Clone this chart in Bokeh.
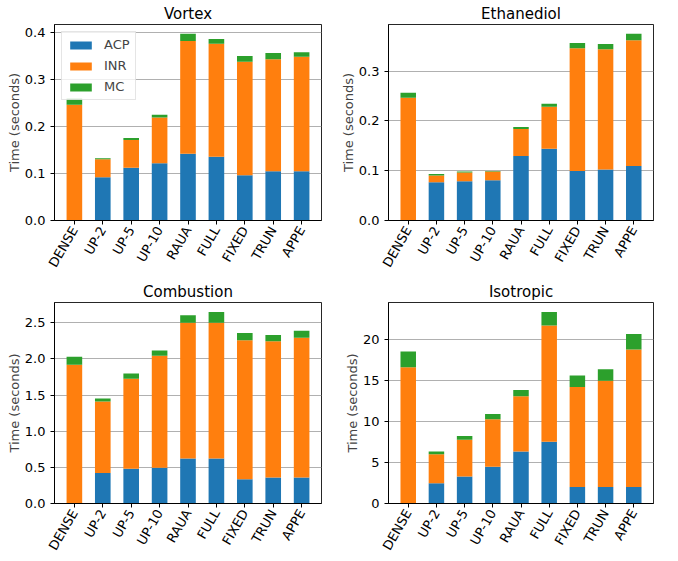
from bokeh.plotting import figure
from bokeh.layouts import column, row
from bokeh.models import ColumnDataSource, Range1d, FixedTicker, PrintfTickFormatter
from bokeh.embed import file_html
from bokeh.resources import INLINE

categories = ["DENSE", "UP-2", "UP-5", "UP-10", "RAUA", "FULL", "FIXED", "TRUN", "APPE"]
series_names = ["ACP", "INR", "MC"]
colors = ["#1f77b4", "#ff7f0e", "#2ca02c"]

# Vortex (seconds)
vortex_acp = [0.0, 0.092, 0.112, 0.122, 0.142, 0.1355, 0.096, 0.105, 0.105]
vortex_inr = [0.246, 0.0385, 0.059, 0.097, 0.240, 0.2405, 0.2416, 0.238, 0.243]
vortex_mc = [0.0135, 0.0021, 0.0046, 0.006, 0.015, 0.010, 0.0124, 0.013, 0.010]

# Ethanediol
eth_acp = [0.0, 0.077, 0.079, 0.081, 0.1297, 0.144, 0.0993, 0.1027, 0.1095]
eth_inr = [0.2466, 0.0135, 0.0176, 0.0176, 0.0541, 0.0844, 0.2467, 0.2413, 0.2525]
eth_mc = [0.0102, 0.0027, 0.002, 0.0007, 0.004, 0.0061, 0.0108, 0.0107, 0.013]

# Combustion
comb_acp = [0.0, 0.422, 0.48, 0.494, 0.624, 0.624, 0.336, 0.36, 0.36]
comb_inr = [1.919, 0.989, 1.247, 1.55, 1.876, 1.876, 1.924, 1.886, 1.934]
comb_mc = [0.111, 0.043, 0.072, 0.072, 0.105, 0.149, 0.101, 0.086, 0.096]

# Isotropic
iso_acp = [0.0, 2.46, 3.3, 4.49, 6.36, 7.54, 2.03, 2.03, 2.03]
iso_inr = [16.65, 3.56, 4.5, 5.81, 6.73, 14.2, 12.21, 12.97, 16.78]
iso_mc = [1.91, 0.34, 0.46, 0.63, 0.77, 1.65, 1.4, 1.4, 1.91]

vortex_ticks = [0.0, 0.1, 0.2, 0.3, 0.4]
eth_ticks = [0.0, 0.1, 0.2, 0.3]
comb_ticks = [0.0, 0.5, 1.0, 1.5, 2.0, 2.5]
iso_ticks = [0, 5, 10, 15, 20]

FONT = "DejaVu Sans"


def make_panel(title, acp, inr, mc, yticks, fmt, width, height, bl, br, bt, bb, legend=False):
    xs = list(range(len(categories)))
    src = ColumnDataSource(dict(x=xs, ACP=acp, INR=inr, MC=mc))
    totals = [a + b + c for a, b, c in zip(acp, inr, mc)]
    ymax = max(totals) * 1.05
    p = figure(width=width, height=height, output_backend="svg", toolbar_location=None,
               x_range=Range1d(-0.7, len(categories) - 0.3), y_range=Range1d(0, ymax),
               min_border_left=bl, min_border_right=br, min_border_top=bt, min_border_bottom=bb,
               title=title)
    kw = {}
    if legend:
        kw["legend_label"] = series_names
    p.vbar_stack(series_names, x="x", width=0.55, color=colors, line_color=None, source=src, **kw)

    p.title.text_font = FONT
    p.title.text_font_size = "15px"
    p.title.text_font_style = "normal"
    p.title.align = "center"
    p.title.text_color = "black"
    p.title.standoff = 4

    p.xgrid.visible = False
    p.ygrid.grid_line_color = "#b0b0b0"
    p.ygrid.grid_line_width = 1
    p.ygrid.ticker = FixedTicker(ticks=yticks)

    p.outline_line_color = "black"
    p.outline_line_alpha = 0.85
    p.outline_line_width = 1

    p.xaxis.ticker = FixedTicker(ticks=xs)
    p.xaxis.major_label_overrides = {i: c for i, c in enumerate(categories)}
    p.xaxis.major_label_orientation = 1.0472
    p.xaxis.major_label_text_line_height = 1.0
    p.yaxis.ticker = FixedTicker(ticks=yticks)
    p.yaxis.formatter = PrintfTickFormatter(format=fmt)
    p.yaxis.axis_label = "Time (seconds)"
    p.yaxis.axis_label_text_font_style = "normal"
    p.yaxis.axis_label_text_font = FONT
    p.yaxis.axis_label_text_font_size = "13px"
    p.yaxis.axis_label_standoff = 0
    for ax in (p.xaxis, p.yaxis):
        ax.major_label_text_font = FONT
        ax.major_label_text_font_size = "13px"
        ax.major_label_text_color = "black"
        ax.axis_line_color = "black"
        ax.major_tick_line_color = "black"
        ax.minor_tick_line_color = None
        ax.major_tick_out = 4
        ax.major_tick_in = 0
    p.yaxis.major_label_standoff = 5
    p.xaxis.major_label_standoff = 3

    if legend:
        lg = p.legend[0]
        lg.location = "top_left"
        lg.margin = 7
        lg.padding = 5
        lg.spacing = 6
        lg.label_height = 14
        lg.glyph_width = 27
        lg.glyph_height = 10
        lg.label_standoff = 10
        lg.label_text_font = FONT
        lg.label_text_font_size = "13px"
        lg.border_line_color = "#cccccc"
        lg.border_line_width = 1
        lg.background_fill_alpha = 0.8
    return p


p1 = make_panel("Vortex", vortex_acp, vortex_inr, vortex_mc, vortex_ticks, "%.1f",
                333, 276, 54, 12, 18, 40, legend=True)
p2 = make_panel("Ethanediol", eth_acp, eth_inr, eth_mc, eth_ticks, "%.1f",
                328, 276, 55, 8, 18, 40)
p3 = make_panel("Combustion", comb_acp, comb_inr, comb_mc, comb_ticks, "%.1f",
                333, 283, 54, 12, 26, 40)
p4 = make_panel("Isotropic", iso_acp, iso_inr, iso_mc, iso_ticks, "%d",
                328, 283, 55, 8, 26, 40)

layout = column(row(p1, p2), row(p3, p4), width=661, height=553,
                styles={"overflow": "hidden", "margin-bottom": "-8px"})
open("out.html", "w").write(file_html(layout, INLINE))
